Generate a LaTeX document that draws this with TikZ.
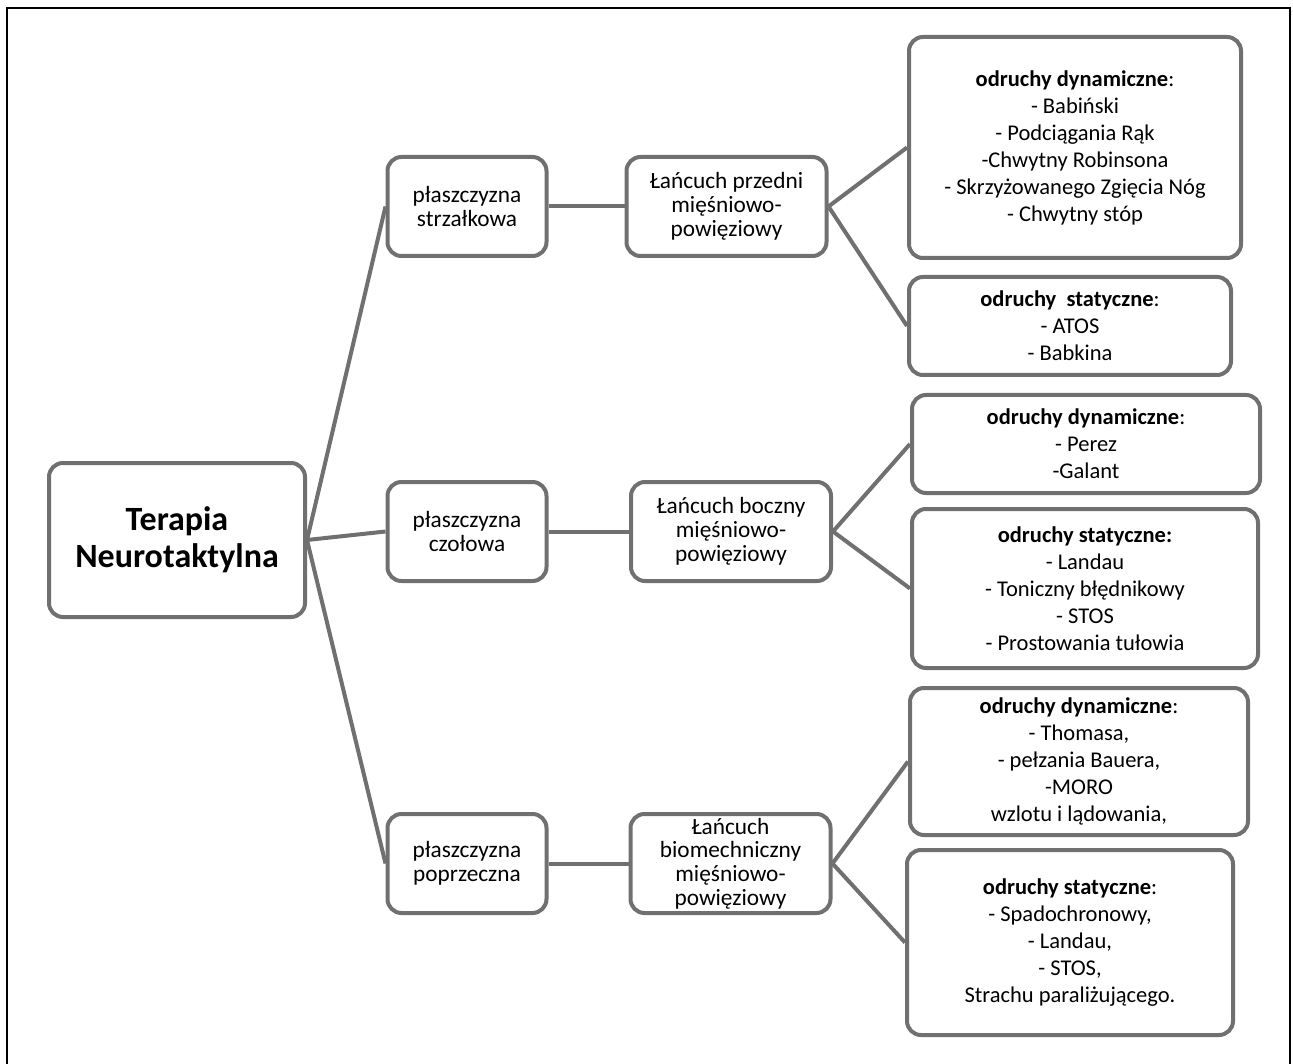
\documentclass[tikz,border=0pt]{standalone}
\usepackage{fontspec}
\setmainfont{Carlito}
\definecolor{NTgray}{HTML}{707070}
\tikzset{
   box/.style={draw=NTgray, line width=4pt, rounded corners=14pt, fill=white,
      align=center, inner sep=0pt},
   link/.style={NTgray, line width=4pt},
}
\newcommand{\midfont}{\fontsize{23.3}{23.8}\selectfont}
\newcommand{\reflexfont}{\fontsize{22.5}{27}\selectfont}

\begin{document}
\begin{tikzpicture}[x=1pt, y=-1pt]
            \useasboundingbox (0,0) rectangle (1293,1064);
            % Frame (open at the bottom)
            \draw[line width=1.6pt] (7,1064) -- (7,8) -- (1290,8) -- (1290,1064);
            % Root
            \node[box, minimum width=256pt, minimum height=154pt,
               font=\fontsize{34}{37}\selectfont\bfseries] (root) at (177,540)
               {Terapia\\Neurotaktylna};
            % Planes
            \node[box, minimum width=159pt, minimum height=99pt, font=\midfont]
               (sag) at (467,206.5) {płaszczyzna\\strzałkowa};
            \node[box, minimum width=159pt, minimum height=99pt, font=\midfont]
               (front) at (467,531.5) {płaszczyzna\\czołowa};
            \node[box, minimum width=159pt, minimum height=99pt, font=\midfont]
               (trans) at (467,863.5) {płaszczyzna\\poprzeczna};
            % Chains
            \node[box, minimum width=200pt, minimum height=99pt, font=\midfont]
               (chainA) at (726.5,206.5) {Łańcuch przedni\\mięśniowo-\\powięziowy};
            \node[box, minimum width=200pt, minimum height=99pt, font=\midfont]
               (chainB) at (731,531.5) {Łańcuch boczny\\mięśniowo-\\powięziowy};
            \node[box, minimum width=200pt, minimum height=99pt, font=\midfont]
               (chainC) at (730.5,863.5) {Łańcuch\\biomechniczny\\mięśniowo-\\powięziowy};
            % Reflexes
            \node[box, minimum width=332pt, minimum height=221pt, font=\reflexfont]
               (dynA) at (1075,147.5) {\textbf{odruchy dynamiczne}:\\- Babiński\\- Podciągania Rąk\\-Chwytny Robinsona\\- Skrzyżowanego Zgięcia Nóg\\- Chwytny stóp};
            \node[box, minimum width=322pt, minimum height=98pt, font=\reflexfont]
               (statA) at (1070,326) {\textbf{odruchy~ statyczne}:\\- ATOS\\- Babkina};
            \node[box, minimum width=348pt, minimum height=98pt, font=\reflexfont]
               (dynB) at (1086,444) {\textbf{odruchy dynamiczne}:\\- Perez\\-Galant};
            \node[box, minimum width=346pt, minimum height=159pt, font=\reflexfont]
               (statB) at (1085,588.5) {\textbf{odruchy statyczne:}\\- Landau\\- Toniczny błędnikowy\\- STOS\\- Prostowania tułowia};
            \node[box, minimum width=338pt, minimum height=147pt, font=\reflexfont]
               (dynC) at (1079,761.5) {\textbf{odruchy dynamiczne}:\\- Thomasa,\\- pełzania Bauera,\\-MORO\\wzlotu i lądowania,};
            \node[box, minimum width=326pt, minimum height=185pt, font=\reflexfont]
               (statC) at (1070,942.5) {\textbf{odruchy statyczne}:\\- Spadochronowy,\\- Landau,\\- STOS,\\Strachu paraliżującego.};
            % Links
            \foreach \p in {sag,front,trans}
               \draw[link] (root.east) -- (\p.west);
            \draw[link] (sag.east) -- (chainA.west);
            \draw[link] (front.east) -- (chainB.west);
            \draw[link] (trans.east) -- (chainC.west);
            \draw[link] (chainA.east) -- (dynA.west);
            \draw[link] (chainA.east) -- (statA.west);
            \draw[link] (chainB.east) -- (dynB.west);
            \draw[link] (chainB.east) -- (statB.west);
            \draw[link] (chainC.east) -- (dynC.west);
            \draw[link] (chainC.east) -- (statC.west);
         \end{tikzpicture}
\end{document}
